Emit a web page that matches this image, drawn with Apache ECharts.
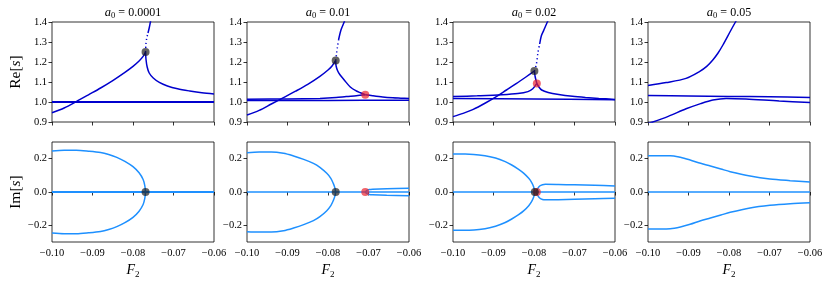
<!DOCTYPE html>
<html><head><meta charset="utf-8">
<script src="https://cdn.jsdelivr.net/npm/echarts@6/dist/echarts.min.js"></script>
<style>html,body{margin:0;padding:0;background:#fff}#c{width:830px;height:282px}</style>
</head><body><div id="c"></div>
<script>
// ---------- tick labels / categories ----------
const a0Labels = ['0.0001', '0.01', '0.02', '0.05'];
const xTicks = [-0.10, -0.09, -0.08, -0.07, -0.06];
const reTicks = [0.9, 1.0, 1.1, 1.2, 1.3, 1.4];
const imTicks = [-0.2, 0.0, 0.2];

// ---------- panel 1 : a0 = 0.0001 ----------
const p1ReRise = [[-0.100,0.946],[-0.097,0.970],[-0.094,1.002],[-0.091,1.036],[-0.088,1.070],[-0.085,1.107],[-0.082,1.148],[-0.080,1.178],[-0.0785,1.205],[-0.0775,1.228],[-0.0769,1.250]];
const p1ReUpDot = [[-0.0769,1.250],[-0.0768,1.290],[-0.0766,1.320],[-0.0763,1.345]];
const p1ReUp = [[-0.0763,1.345],[-0.0760,1.370],[-0.0757,1.400],[-0.0754,1.430]];
const p1ReDown = [[-0.0769,1.250],[-0.0768,1.215],[-0.0765,1.175],[-0.0760,1.145],[-0.0750,1.120],[-0.0735,1.098],[-0.0715,1.080],[-0.0690,1.066],[-0.0660,1.055],[-0.0630,1.046],[-0.0600,1.040]];
const p1ReFlat = [[-0.100,1.000],[-0.060,1.000]];
const p1ImUp = [[-0.100,0.246],[-0.097,0.250],[-0.094,0.250],[-0.091,0.245],[-0.088,0.237],[-0.086,0.225],[-0.084,0.208],[-0.082,0.184],[-0.080,0.152],[-0.0785,0.115],[-0.0775,0.075],[-0.0771,0.040],[-0.0769,0.000]];
const p1ImLo = [[-0.100,-0.246],[-0.097,-0.250],[-0.094,-0.250],[-0.091,-0.245],[-0.088,-0.237],[-0.086,-0.225],[-0.084,-0.208],[-0.082,-0.184],[-0.080,-0.152],[-0.0785,-0.115],[-0.0775,-0.075],[-0.0771,-0.040],[-0.0769,0.000]];
const p1ImZero = [[-0.100,0.000],[-0.060,0.000]];

// ---------- panel 2 : a0 = 0.01 ----------
const p2ReRise = [[-0.100,0.935],[-0.097,0.958],[-0.094,0.990],[-0.091,1.022],[-0.088,1.054],[-0.085,1.088],[-0.082,1.128],[-0.080,1.160],[-0.079,1.180],[-0.0781,1.208]];
const p2ReUpDot = [[-0.0781,1.208],[-0.0779,1.240],[-0.0777,1.270],[-0.0774,1.310]];
const p2ReUp = [[-0.0774,1.310],[-0.0768,1.360],[-0.0760,1.400],[-0.0755,1.430]];
const p2ReDown = [[-0.0781,1.208],[-0.0780,1.180],[-0.0776,1.155],[-0.0770,1.135],[-0.0760,1.110],[-0.0745,1.075],[-0.0730,1.055],[-0.0720,1.046],[-0.0708,1.036]];
const p2RePair = [[-0.0708,1.036],[-0.0690,1.031],[-0.0665,1.025],[-0.0640,1.021],[-0.0620,1.019],[-0.0600,1.017]];
const p2ReRise2 = [[-0.100,1.014],[-0.090,1.015],[-0.082,1.018],[-0.078,1.022],[-0.0755,1.027],[-0.073,1.031],[-0.0708,1.036]];
const p2ReFlat = [[-0.100,1.007],[-0.080,1.008],[-0.060,1.009]];
const p2ImUp = [[-0.100,0.236],[-0.097,0.240],[-0.094,0.240],[-0.091,0.232],[-0.0885,0.216],[-0.086,0.196],[-0.0836,0.172],[-0.082,0.148],[-0.0803,0.112],[-0.0793,0.082],[-0.0787,0.052],[-0.0783,0.025],[-0.0781,0.000]];
const p2ImLo = [[-0.100,-0.238],[-0.097,-0.240],[-0.094,-0.240],[-0.091,-0.232],[-0.0885,-0.216],[-0.086,-0.196],[-0.0836,-0.172],[-0.082,-0.148],[-0.0803,-0.112],[-0.0793,-0.082],[-0.0787,-0.052],[-0.0783,-0.025],[-0.0781,0.000]];
const p2ImPairUp = [[-0.0708,0.000],[-0.0704,0.010],[-0.0698,0.015],[-0.0690,0.017],[-0.0655,0.020],[-0.0600,0.022]];
const p2ImPairLo = [[-0.0708,0.000],[-0.0704,-0.010],[-0.0698,-0.015],[-0.0690,-0.017],[-0.0655,-0.020],[-0.0600,-0.022]];
const p2ImZero = [[-0.100,0.000],[-0.060,0.000]];

// ---------- panel 3 : a0 = 0.02 ----------
const p3ReRise = [[-0.100,0.927],[-0.0975,0.943],[-0.095,0.963],[-0.092,0.995],[-0.0893,1.027],[-0.0868,1.060],[-0.0843,1.093],[-0.082,1.125],[-0.0799,1.155]];
const p3ReUpDot = [[-0.0799,1.155],[-0.0794,1.190],[-0.0790,1.250],[-0.0786,1.290]];
const p3ReUp = [[-0.0786,1.290],[-0.0782,1.330],[-0.0776,1.358],[-0.0767,1.400],[-0.0760,1.430]];
const p3ReDown = [[-0.0799,1.155],[-0.0797,1.125],[-0.0793,1.093]];
const p3RePair = [[-0.0793,1.093],[-0.0788,1.075],[-0.0781,1.060],[-0.0765,1.048],[-0.0739,1.038],[-0.0705,1.029],[-0.0673,1.023],[-0.0640,1.018],[-0.0600,1.013]];
const p3ReRise2 = [[-0.100,1.027],[-0.094,1.031],[-0.088,1.036],[-0.084,1.042],[-0.0815,1.052],[-0.0803,1.066],[-0.0793,1.093]];
const p3ReFlat = [[-0.100,1.017],[-0.080,1.015],[-0.060,1.011]];
const p3ImUp = [[-0.100,0.228],[-0.097,0.228],[-0.0921,0.218],[-0.0895,0.204],[-0.0871,0.182],[-0.0855,0.162],[-0.0838,0.136],[-0.0825,0.112],[-0.0813,0.082],[-0.0806,0.058],[-0.0801,0.032],[-0.0799,0.012],[-0.0798,0.000]];
const p3ImLo = [[-0.100,-0.230],[-0.097,-0.230],[-0.0921,-0.220],[-0.0895,-0.205],[-0.0871,-0.183],[-0.0855,-0.162],[-0.0838,-0.136],[-0.0825,-0.112],[-0.0813,-0.082],[-0.0806,-0.058],[-0.0801,-0.032],[-0.0799,-0.012],[-0.0798,0.000]];
const p3ImPairUp = [[-0.0795,0.000],[-0.0791,0.020],[-0.0786,0.036],[-0.0779,0.044],[-0.0772,0.046],[-0.0740,0.045],[-0.0700,0.043],[-0.0650,0.040],[-0.0600,0.036]];
const p3ImPairLo = [[-0.0795,0.000],[-0.0791,-0.020],[-0.0786,-0.036],[-0.0779,-0.045],[-0.0772,-0.047],[-0.0740,-0.046],[-0.0700,-0.043],[-0.0650,-0.040],[-0.0600,-0.037]];
const p3ImZero = [[-0.100,0.000],[-0.060,0.000]];

// ---------- panel 4 : a0 = 0.05 ----------
const p4ReUp = [[-0.100,1.083],[-0.0955,1.097],[-0.0906,1.118],[-0.0873,1.152],[-0.0855,1.178],[-0.0840,1.210],[-0.0827,1.245],[-0.0815,1.285],[-0.0795,1.360],[-0.0784,1.400],[-0.0778,1.420]];
const p4ReFlat = [[-0.100,1.032],[-0.090,1.030],[-0.080,1.028],[-0.070,1.026],[-0.060,1.023]];
const p4ReLow = [[-0.100,0.893],[-0.0988,0.900],[-0.095,0.928],[-0.0906,0.966],[-0.087,0.992],[-0.0840,1.010],[-0.0807,1.018],[-0.0758,1.015],[-0.0676,1.005],[-0.0600,0.998]];
const p4ImUp = [[-0.100,0.218],[-0.0945,0.218],[-0.092,0.208],[-0.0896,0.192],[-0.0870,0.172],[-0.0846,0.156],[-0.0820,0.138],[-0.0797,0.122],[-0.0748,0.096],[-0.0699,0.078],[-0.0649,0.068],[-0.0600,0.060]];
const p4ImLo = [[-0.100,-0.222],[-0.0945,-0.220],[-0.092,-0.210],[-0.0896,-0.194],[-0.0870,-0.172],[-0.0846,-0.156],[-0.0820,-0.138],[-0.0797,-0.122],[-0.0748,-0.096],[-0.0699,-0.080],[-0.0649,-0.070],[-0.0600,-0.064]];
const p4ImZero = [[-0.100,0.000],[-0.060,0.000]];

// ---------- bifurcation points ----------
const reBlack = [[-0.0769,1.250],[-0.0781,1.208],[-0.0799,1.155],null];
const reRed   = [null,[-0.0708,1.036],[-0.0793,1.093],null];
const imBlack = [[-0.0769,0.000],[-0.0781,0.000],[-0.0798,0.000],null];
const imRed   = [null,[-0.0708,0.000],[-0.0793,0.000],null];

// ---------- assemble ----------
const reCurves = [
  [[p1ReRise],[p1ReUpDot,'dot'],[p1ReUp],[p1ReDown],[p1ReFlat,'thick']],
  [[p2ReRise],[p2ReUpDot,'dot'],[p2ReUp],[p2ReDown],[p2RePair],[p2ReRise2],[p2ReFlat]],
  [[p3ReRise],[p3ReUpDot,'dot'],[p3ReUp],[p3ReDown],[p3RePair],[p3ReRise2],[p3ReFlat]],
  [[p4ReUp],[p4ReFlat],[p4ReLow]]
];
const imCurves = [
  [[p1ImUp],[p1ImLo],[p1ImZero,'thick']],
  [[p2ImUp],[p2ImLo],[p2ImPairUp],[p2ImPairLo],[p2ImZero]],
  [[p3ImUp],[p3ImLo],[p3ImPairUp],[p3ImPairLo],[p3ImZero]],
  [[p4ImUp],[p4ImLo],[p4ImZero]]
];

const colLeft = [52, 247, 453, 648];
const colW = 162;
const rowTop = [22, 142];
const rowH = 100;
const FONT = 'Liberation Serif';
const RE_COLOR = '#0000cd';
const IM_COLOR = '#1e90ff';

const fmtMinus = (v, d) => (v < -1e-9 ? '\u2212' : '') + Math.abs(v).toFixed(d);

const grids = [], xAxes = [], yAxes = [], series = [], graphics = [];
for (let r = 0; r < 2; r++) {
  for (let c = 0; c < 4; c++) {
    const gi = r * 4 + c;
    grids.push({left: colLeft[c], top: rowTop[r], width: colW, height: rowH,
      show: true, borderColor: '#000', borderWidth: 0.8, backgroundColor: 'transparent', containLabel: false});
    xAxes.push({
      type: 'value', gridIndex: gi, min: -0.10, max: -0.06, interval: 0.01,
      axisLine: {show: false},
      axisTick: {show: true, length: 3.5, lineStyle: {color: '#000', width: 0.8}, customValues: xTicks},
      axisLabel: {show: r === 1, margin: 6, fontSize: 10.5, fontFamily: FONT, color: '#000',
        customValues: xTicks, formatter: v => fmtMinus(v, 2)},
      splitLine: {show: false},
      name: r === 1 ? '{i|F}{s|2}' : '',
      nameLocation: 'middle', nameGap: 20,
      nameTextStyle: {fontFamily: FONT, color: '#000', rich: {
        i: {fontStyle: 'italic', fontSize: 14, fontFamily: FONT, color: '#000'},
        s: {fontSize: 9, fontFamily: FONT, color: '#000', padding: [8, 0, 0, 0]}
      }}
    });
    const isRe = r === 0;
    yAxes.push({
      type: 'value', gridIndex: gi,
      min: isRe ? 0.9 : -0.3, max: isRe ? 1.4 : 0.3,
      axisLine: {show: false},
      axisTick: {show: true, length: 3.5, lineStyle: {color: '#000', width: 0.8}, customValues: isRe ? reTicks : imTicks},
      axisLabel: {show: true, margin: 5, fontSize: 10.5, fontFamily: FONT, color: '#000',
        customValues: isRe ? reTicks : imTicks, formatter: v => fmtMinus(v, 1)},
      splitLine: {show: false},
      name: c === 0 ? (isRe ? '{r|Re[}{i|s}{r|]}' : '{r|Im[}{i|s}{r|]}') : '',
      nameLocation: 'middle', nameRotate: 90, nameGap: 28,
      nameTextStyle: {fontFamily: FONT, color: '#000', rich: {
        r: {fontSize: 15.5, fontFamily: FONT, color: '#000'},
        i: {fontSize: 15.5, fontFamily: FONT, fontStyle: 'italic', color: '#000'}
      }}
    });
    const curves = isRe ? reCurves[c] : imCurves[c];
    const color = isRe ? RE_COLOR : IM_COLOR;
    curves.forEach(cv => {
      const kind = cv[1];
      series.push({
        type: 'line', xAxisIndex: gi, yAxisIndex: gi, data: cv[0],
        showSymbol: false, symbol: 'none', smooth: 0.3,
        clip: true, silent: true, animation: false,
        lineStyle: {color: color, width: kind === 'thick' ? 2 : 1.5,
          type: kind === 'dot' ? [1.2, 2.8] : 'solid'}
      });
    });
    const red = isRe ? reRed[c] : imRed[c];
    const blk = isRe ? reBlack[c] : imBlack[c];
    if (red) series.push({type: 'scatter', xAxisIndex: gi, yAxisIndex: gi, data: [red],
      symbolSize: 8, z: 5, animation: false, silent: true,
      itemStyle: {color: 'rgba(235,30,40,0.85)'}});
    if (blk) series.push({type: 'scatter', xAxisIndex: gi, yAxisIndex: gi, data: [blk],
      symbolSize: 8, z: 6, animation: false, silent: true,
      itemStyle: {color: 'rgba(25,25,25,0.85)'}});
  }
}

for (let c = 0; c < 4; c++) {
  graphics.push({
    type: 'text', x: colLeft[c] + colW / 2, y: 13, silent: true,
    style: {
      text: '{i|a}{s|0}{n| = ' + a0Labels[c] + '}',
      align: 'center', verticalAlign: 'middle',
      rich: {
        i: {fontStyle: 'italic', fontSize: 12.5, fontFamily: FONT, fill: '#000'},
        s: {fontSize: 8.5, fontFamily: FONT, fill: '#000', padding: [6, 0, 0, 0]},
        n: {fontSize: 12, fontFamily: FONT, fill: '#000'}
      }
    }
  });
}

const chart = echarts.init(document.getElementById('c'), null, {renderer: 'canvas'});
chart.setOption({
  animation: false,
  backgroundColor: '#fff',
  grid: grids, xAxis: xAxes, yAxis: yAxes, series: series, graphic: graphics
});
</script>
</body></html>
